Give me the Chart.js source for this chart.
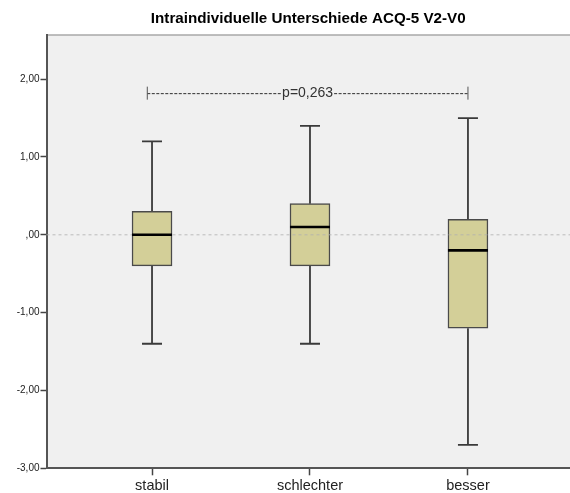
<!DOCTYPE html>
<html>
<head>
<meta charset="utf-8">
<title>Intraindividuelle Unterschiede ACQ-5 V2-V0</title>
<script src="https://cdn.jsdelivr.net/npm/chart.js@4"></script>
<style>
  html, body { margin: 0; padding: 0; background: #ffffff; }
  #wrap { width: 570px; height: 493px; }
</style>
</head>
<body>
<div id="wrap"><canvas id="chart" width="570" height="493"></canvas></div>
<script>
// Groups and their box-plot summaries (ACQ-5 difference V2 - V0)
const categories = ['stabil', 'schlechter', 'besser'];
const positions = [1, 2, 3];
const whiskerLow = [-1.4, -1.4, -2.7];
const q1 = [-0.4, -0.4, -1.2];
const median = [0.0, 0.1, -0.2];
const q3 = [0.3, 0.4, 0.2];
const whiskerHigh = [1.2, 1.4, 1.5];

// Value axis
const yTickValues = [-3, -2, -1, 0, 1, 2];
const yTickLabels = ['-3,00', '-2,00', '-1,00', ',00', '1,00', '2,00'];

// Significance bracket across all groups
const pLabel = 'p=0,263';
const bracketY = 1.82;
const bracketFrom = 0.97;
const bracketTo = 3.0;

const titleText = 'Intraindividuelle Unterschiede ACQ-5 V2-V0';
const FONT = "Arial, 'Liberation Sans', sans-serif";

const boxData = positions.map((p, i) => ({ x: p, y: [q1[i], q3[i]] }));

const plotBackground = {
  id: 'plotBackground',
  beforeDraw(chart) {
    const { ctx, chartArea: a } = chart;
    ctx.save();
    ctx.fillStyle = '#f0f0f0';
    ctx.fillRect(a.left, a.top, a.right - a.left, a.bottom - a.top);
    // thin frame line along the top
    ctx.strokeStyle = '#a8a8a8';
    ctx.lineWidth = 1.5;
    ctx.beginPath();
    ctx.moveTo(a.left, a.top);
    ctx.lineTo(a.right, a.top);
    ctx.stroke();
    ctx.restore();
  }
};

const boxParts = {
  id: 'boxParts',
  beforeDatasetsDraw(chart) {
    const { ctx } = chart;
    const xs = chart.scales.x, ys = chart.scales.y;
    ctx.save();
    ctx.strokeStyle = '#3a3a3a';
    ctx.lineWidth = 1.8;
    positions.forEach((p, i) => {
      const x = xs.getPixelForValue(p);
      const yHi = ys.getPixelForValue(whiskerHigh[i]);
      const yLo = ys.getPixelForValue(whiskerLow[i]);
      const yQ1 = ys.getPixelForValue(q1[i]);
      const yQ3 = ys.getPixelForValue(q3[i]);
      ctx.beginPath();
      ctx.moveTo(x, yQ3); ctx.lineTo(x, yHi);
      ctx.moveTo(x, yQ1); ctx.lineTo(x, yLo);
      ctx.moveTo(x - 10, yHi); ctx.lineTo(x + 10, yHi);
      ctx.moveTo(x - 10, yLo); ctx.lineTo(x + 10, yLo);
      ctx.stroke();
    });
    ctx.restore();
  },
  afterDatasetsDraw(chart) {
    const { ctx, chartArea: a } = chart;
    const xs = chart.scales.x, ys = chart.scales.y;
    ctx.save();
    // dashed reference line at zero
    const y0 = ys.getPixelForValue(0);
    ctx.strokeStyle = 'rgba(175,175,175,0.8)';
    ctx.lineWidth = 1;
    ctx.setLineDash([3, 3]);
    ctx.beginPath();
    ctx.moveTo(a.left, y0); ctx.lineTo(a.right, y0);
    ctx.stroke();
    ctx.setLineDash([]);

    // medians
    ctx.strokeStyle = '#000000';
    ctx.lineWidth = 2.6;
    positions.forEach((p, i) => {
      const x = xs.getPixelForValue(p);
      const y = ys.getPixelForValue(median[i]);
      ctx.beginPath();
      ctx.moveTo(x - 20, y); ctx.lineTo(x + 20, y);
      ctx.stroke();
    });

    // significance bracket
    const bx1 = xs.getPixelForValue(bracketFrom);
    const bx2 = xs.getPixelForValue(bracketTo);
    const by = ys.getPixelForValue(bracketY);
    ctx.font = '14px ' + FONT;
    const tw = ctx.measureText(pLabel).width;
    const cx = (bx1 + bx2) / 2;
    ctx.strokeStyle = '#2e2e2e';
    ctx.lineWidth = 1;
    ctx.setLineDash([3, 1.5]);
    ctx.beginPath();
    ctx.moveTo(bx1, by + 0.5); ctx.lineTo(cx - tw / 2 - 1, by + 0.5);
    ctx.moveTo(cx + tw / 2 + 1, by + 0.5); ctx.lineTo(bx2, by + 0.5);
    ctx.stroke();
    ctx.setLineDash([]);
    ctx.strokeStyle = '#555555';
    ctx.beginPath();
    ctx.moveTo(bx1, by - 6.5); ctx.lineTo(bx1, by + 6.5);
    ctx.moveTo(bx2, by - 6.5); ctx.lineTo(bx2, by + 6.5);
    ctx.stroke();
    ctx.fillStyle = '#333333';
    ctx.textAlign = 'center';
    ctx.textBaseline = 'middle';
    ctx.fillText(pLabel, cx, by);

    // chart title, centred over the plot area
    ctx.fillStyle = '#000000';
    ctx.font = 'bold 15.2px ' + FONT;
    ctx.fillText(titleText, (a.left + a.right) / 2, 18.5);
    ctx.restore();
  }
};

new Chart(document.getElementById('chart'), {
  type: 'bar',
  data: {
    datasets: [{
      data: boxData,
      backgroundColor: '#d3cf98',
      borderColor: '#4a4a4a',
      borderWidth: 1.5,
      borderSkipped: false,
      barThickness: 40
    }]
  },
  options: {
    responsive: false,
    animation: false,
    layout: { padding: { top: 35, right: 0, left: 0, bottom: 0 } },
    plugins: {
      legend: { display: false },
      tooltip: { enabled: false },
      title: { display: false }
    },
    scales: {
      x: {
        type: 'linear',
        offset: false,
        min: 0.332,
        max: 3.646,
        afterFit(scale) { scale.height = 24.7; },
        afterBuildTicks(scale) { scale.ticks = positions.map(v => ({ value: v })); },
        grid: { offset: false, drawOnChartArea: false, drawTicks: true, tickLength: 7, tickColor: '#444444', tickWidth: 1.5 },
        border: { display: true, color: '#555555', width: 2 },
        ticks: {
          autoSkip: false,
          maxRotation: 0,
          padding: 2,
          color: '#222222',
          font: { family: FONT, size: 14.5 },
          callback: (v) => categories[positions.indexOf(v)]
        }
      },
      y: {
        min: -3,
        max: 2.567,
        afterFit(scale) { scale.width = 46.5; },
        afterBuildTicks(scale) { scale.ticks = yTickValues.map(v => ({ value: v })); },
        grid: { drawOnChartArea: false, drawTicks: true, tickLength: 6, tickColor: '#444444', tickWidth: 1.5 },
        border: { display: true, color: '#555555', width: 2 },
        ticks: {
          padding: 1,
          color: '#222222',
          font: { family: FONT, size: 10 },
          callback: (v) => yTickLabels[yTickValues.indexOf(v)]
        }
      }
    }
  },
  plugins: [plotBackground, boxParts]
});
</script>
</body>
</html>
